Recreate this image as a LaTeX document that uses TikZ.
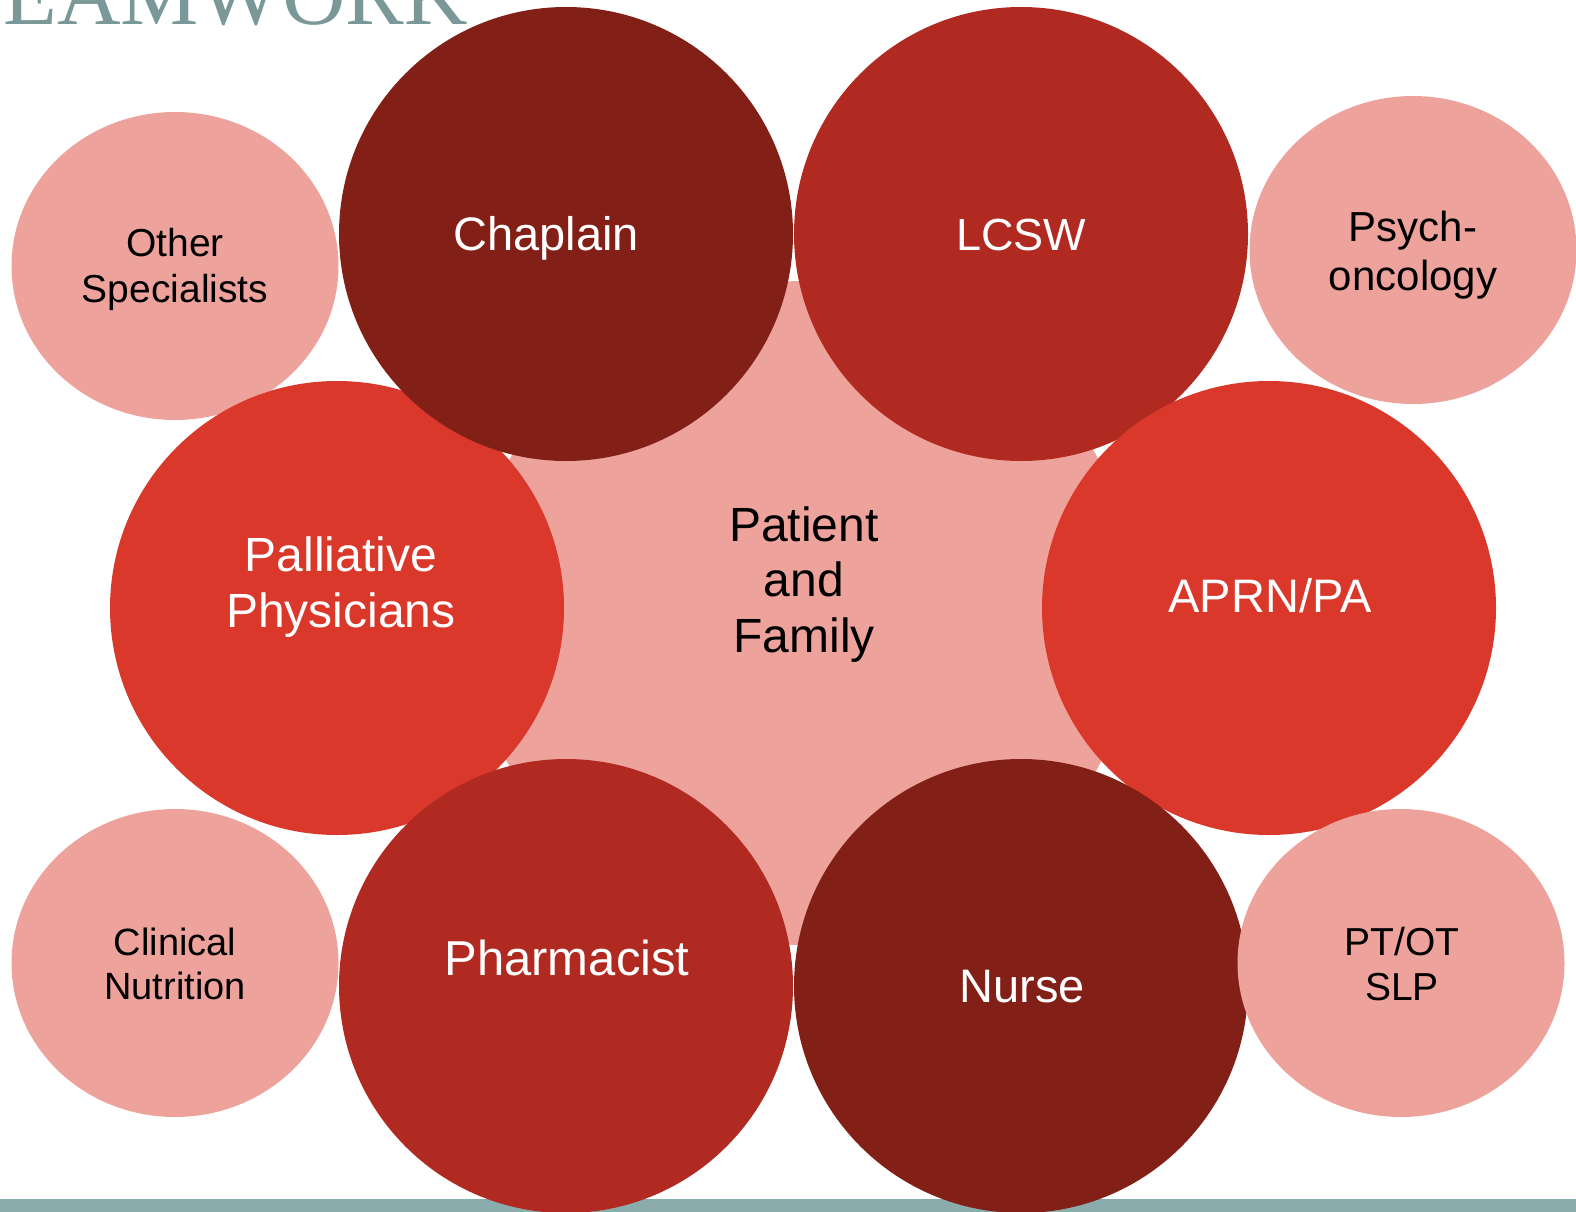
\documentclass[tikz,border=0pt]{standalone}
\usepackage{fontspec}
\setmainfont{Liberation Sans}
\newfontfamily\titlefont{Liberation Serif}
\usetikzlibrary{shapes.geometric}

\definecolor{teamdark}{HTML}{821F17}
\definecolor{teammid}{HTML}{B02A21}
\definecolor{teambright}{HTML}{D9382B}
\definecolor{teampink}{HTML}{EDA39C}
\definecolor{teamtitle}{HTML}{7A9898}
\definecolor{teambar}{HTML}{8BACAC}

\tikzset{
  bigdisc/.style={circle, inner sep=0pt, minimum size=454pt},
  smalldisc/.style={ellipse, inner sep=0pt, minimum width=327pt, minimum height=308pt, fill=teampink},
  whitelabel/.style={anchor=base, inner sep=0pt, text=white, font=\fontsize{47}{56}\selectfont},
  blacklabel/.style={anchor=base, inner sep=0pt, text=black, font=\fontsize{39}{47}\selectfont},
  centrelabel/.style={anchor=base, inner sep=0pt, text=black, font=\fontsize{48}{56}\selectfont},
}

\begin{document}
\begin{tikzpicture}[x=1pt,y=-1pt]
\useasboundingbox (0,0) rectangle (1576,1212);
\fill[white] (0,0) rectangle (1576,1212);

% heading, cut by the top edge
\node[anchor=base east, inner sep=0pt, text=teamtitle,
      font=\titlefont\fontsize{88}{88}\selectfont] (title) at (468,25) {EAMWORK};

% footer band
\fill[teambar] (0,1199) rectangle (1576,1212);

% centre disc
\node[circle, inner sep=0pt, minimum size=664pt, fill=teampink] (centre) at (804,613) {};

% outer ring, back to front
\node[smalldisc] (other) at (175,266) {};
\node[smalldisc] (psych) at (1413,250) {};
\node[bigdisc, fill=teambright] (pall) at (337,608) {};
\node[bigdisc, fill=teamdark] (chap) at (566,234) {};
\node[bigdisc, fill=teammid] (lcsw) at (1021,234) {};
\node[bigdisc, fill=teambright] (aprn) at (1269,608) {};
\node[bigdisc, fill=teammid] (pharm) at (566,986) {};
\node[bigdisc, fill=teamdark] (nurse) at (1021,986) {};
\node[smalldisc] (nutr) at (175,963) {};
\node[smalldisc] (ptot) at (1401,963) {};

% labels
\node[whitelabel] (chapT) at (546,250) {Chaplain};
\node[whitelabel, font=\fontsize{45}{54}\selectfont] (lcswT) at (1021,250) {LCSW};
\node[whitelabel, font=\fontsize{48}{56}\selectfont] (pallT1) at (341,571) {Palliative};
\node[whitelabel, font=\fontsize{48}{56}\selectfont] (pallT2) at (341,627) {Physicians};
\node[whitelabel] (aprnT) at (1270,612) {APRN/PA};
\node[whitelabel, font=\fontsize{49}{56}\selectfont] (pharmT) at (567,975) {Pharmacist};
\node[whitelabel] (nurseT) at (1022,1002) {Nurse};

\node[centrelabel] (pf1) at (804,541) {Patient};
\node[centrelabel] (pf2) at (804,596) {and};
\node[centrelabel] (pf3) at (804,652) {Family};

\node[blacklabel] (otherT1) at (175,256) {Other};
\node[blacklabel] (otherT2) at (175,302) {Specialists};
\node[blacklabel, font=\fontsize{42}{50}\selectfont] (psychT1) at (1413,241) {Psych-};
\node[blacklabel, font=\fontsize{42}{50}\selectfont] (psychT2) at (1413,290) {oncology};
\node[blacklabel, font=\fontsize{38}{44}\selectfont] (nutrT1) at (175,955) {Clinical};
\node[blacklabel, font=\fontsize{38}{44}\selectfont] (nutrT2) at (175,999) {Nutrition};
\node[blacklabel] (ptotT1) at (1402,955) {PT/OT};
\node[blacklabel] (ptotT2) at (1402,1000) {SLP};
\end{tikzpicture}
\end{document}
